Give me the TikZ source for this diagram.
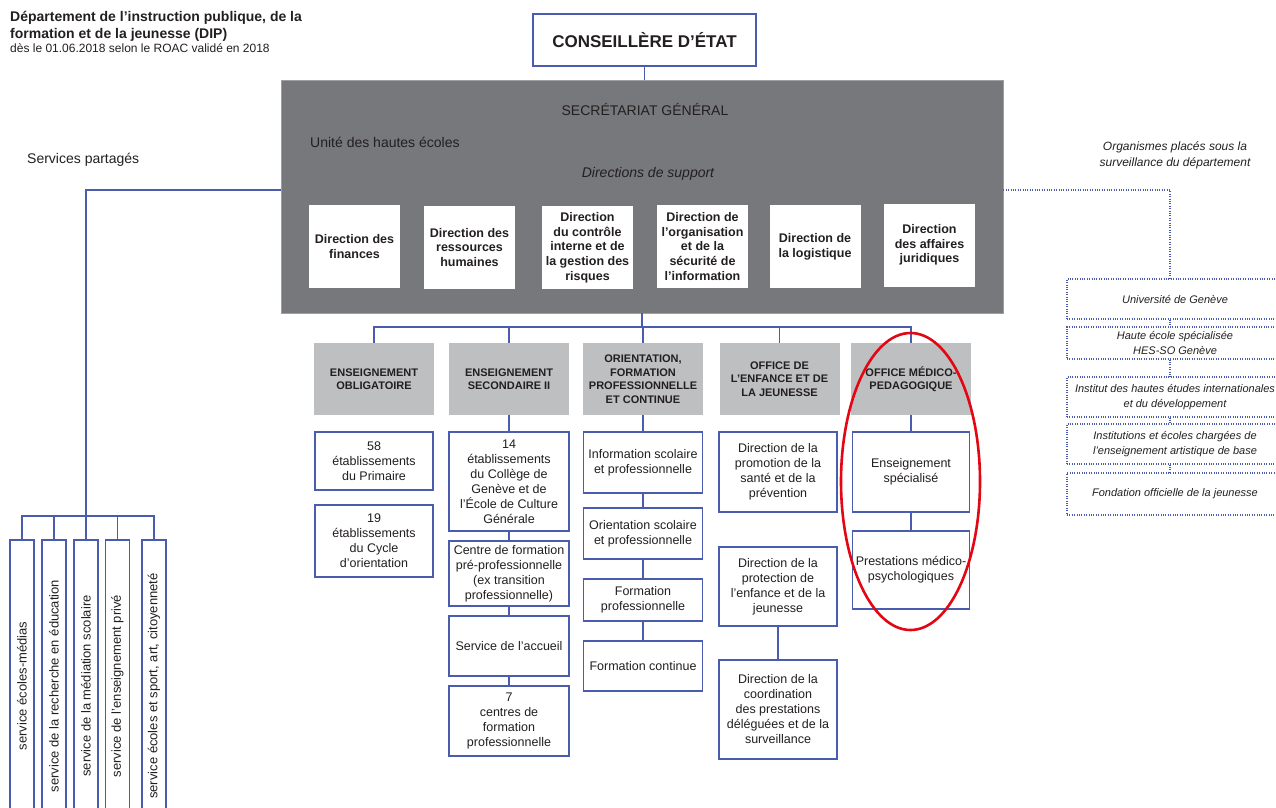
\documentclass[tikz,border=0pt]{standalone}
\usepackage{fontspec}
\setmainfont{Liberation Sans}
\definecolor{linkblue}{HTML}{4A5CAE}
\definecolor{sggray}{HTML}{77787C}
\definecolor{headgray}{HTML}{BEBFC1}
\definecolor{inkdark}{HTML}{231F20}
\definecolor{ovalred}{HTML}{E30613}
\tikzset{
  sized/.style 2 args={minimum width=#1pt, minimum height=#2pt, inner sep=1pt, align=center},
  lbl/.style={inner sep=0pt, text=inkdark},
  link/.style={draw=linkblue, line width=1.2pt},
  dotlink/.style={draw=linkblue, line width=1.1pt, dash pattern=on 1pt off 1.4pt},
  unitbox/.style={draw=linkblue, line width=1.2pt, fill=white, text=inkdark, font=\fontsize{12.5}{15}\selectfont},
  headbox/.style={fill=headgray, text=inkdark, sized={120}{72}, font=\bfseries\fontsize{11}{13.5}\selectfont},
  supportbox/.style={fill=white, text=inkdark, sized={91}{83}, font=\bfseries\fontsize{12.5}{14.7}\selectfont},
  servbox/.style={draw=linkblue, line width=1.2pt, fill=white, rotate=90, sized={292}{24}, text=inkdark, font=\fontsize{13}{15}\selectfont},
  orgbox/.style={dotlink, sized={216}{#1}, text=inkdark, font=\itshape\fontsize{11}{14.5}\selectfont},
}
\begin{document}
\begin{tikzpicture}[x=1pt,y=-1pt]
  \useasboundingbox (0,0) rectangle (1276,807);
  \clip (0,0) rectangle (1276,807);
  % titre
  \node[lbl,anchor=base west,font=\bfseries\fontsize{14}{16}\selectfont] (t1) at (10,21) {Département de l'instruction publique, de la};
  \node[lbl,anchor=base west,font=\bfseries\fontsize{14}{16}\selectfont] (t2) at (10,38) {formation et de la jeunesse (DIP)};
  \node[lbl,anchor=base west,font=\fontsize{12}{14}\selectfont] (t3) at (10,52) {dès le 01.06.2018 selon le ROAC validé en 2018};
  % direction
  \node[unitbox,sized={223}{52},font=\bfseries\fontsize{17}{20}\selectfont] (ce) at (644.5,40) {CONSEILLÈRE D'ÉTAT};
  \node[fill=sggray,draw=gray!75,line width=0.8pt,sized={722}{233}] (sg) at (642,196.5) {};
  \draw[link] (ce.south) -- (ce.south |- sg.north);
  \node[lbl,font=\fontsize{14}{16}\selectfont] (sgtitle) at (645,109) {SECRÉTARIAT GÉNÉRAL};
  \node[lbl,anchor=west,font=\fontsize{14}{16}\selectfont] (uhe) at (310,142) {Unité des hautes écoles};
  \node[lbl,font=\itshape\fontsize{14}{16}\selectfont] (dsup) at (648,174) {Directions de support};
  \foreach \n/\x/\y/\t in {
      dfin/354.5/246.5/{Direction des\\finances},
      drh/469.5/247.5/{Direction des\\ressources\\humaines},
      dcir/587.5/247.5/{Direction\\du contrôle\\interne et de\\la gestion des\\risques},
      dosi/702.5/246.5/{Direction de\\l'organisation\\et de la\\sécurité de\\l'information},
      dlog/815/246.5/{Direction de\\la logistique},
      daj/929.5/245/{Direction\\des affaires\\juridiques}}
    \node[supportbox] (\n) at (\x,\y) {\t};
  % offices
  \foreach \n/\x/\t in {
      h1/374/{ENSEIGNEMENT\\OBLIGATOIRE},
      h2/509/{ENSEIGNEMENT\\SECONDAIRE II},
      h3/643/{ORIENTATION,\\FORMATION\\PROFESSIONNELLE\\ET CONTINUE},
      h4/779.5/{OFFICE DE\\L'ENFANCE ET DE\\LA JEUNESSE},
      h5/911/{OFFICE MÉDICO-\\PEDAGOGIQUE}}
    \node[headbox] (\n) at (\x,379) {\t};
  \coordinate (bar) at (642,327);
  \draw[link] (bar |- sg.south) -- (bar);
  \draw[link] (h1.north) |- (bar) -| (h5.north);
  \foreach \h in {h2,h3,h4}
    \draw[link] (\h.north) -- (\h.north |- bar);
  % services des offices
  \foreach \n/\x/\y/\w/\h/\t in {
      c1a/374/461/118/58/{58\\établissements\\du Primaire},
      c1b/374/541/118/72/{19\\établissements\\du Cycle\\d'orientation},
      c2a/509/481.5/120/99/{14\\établissements\\du Collège de\\Genève et de\\l'École de Culture\\Générale},
      c2b/509/573.5/120/65/{Centre de formation\\pré-professionnelle\\(ex transition\\professionnelle)},
      c2c/509/646/120/60/{Service de l'accueil},
      c2d/509/721/120/70/{7\\centres de\\formation\\professionnelle},
      c3a/643/462.5/119/61/{Information scolaire\\et professionnelle},
      c3b/643/533.5/119/51/{Orientation scolaire\\et professionnelle},
      c3c/643/600/119/42/{Formation\\professionnelle},
      c3d/643/666/119/50/{Formation continue},
      c4a/778/472/118/80/{Direction de la\\promotion de la\\santé et de la\\prévention},
      c4b/778/586.5/118/79/{Direction de la\\protection de\\l'enfance et de la\\jeunesse},
      c4c/778/709.5/118/99/{Direction de la\\coordination\\des prestations\\déléguées et de la\\surveillance},
      c5a/911/472/117/80/{Enseignement\\spécialisé},
      c5b/911/570/117/78/{Prestations médico-\\psychologiques}}
    \node[unitbox,sized={\w}{\h}] (\n) at (\x,\y) {\t};
  \draw[link] (h2) -- (c2a) -- (c2b) -- (c2c) -- (c2d);
  \draw[link] (h3) -- (c3a) -- (c3b) -- (c3c) -- (c3d);
  \draw[link] (c4b) -- (c4c);
  \draw[link] (h5) -- (c5a) -- (c5b);
  % services partages
  \node[lbl,anchor=base west,font=\fontsize{14}{16}\selectfont] (spt) at (27,163) {Services partagés};
  \foreach \n/\x/\t in {
      s1/22/{service écoles-médias},
      s2/54/{service de la recherche en éducation},
      s3/86/{service de la médiation scolaire},
      s4/117.5/{service de l'enseignement privé},
      s5/154/{service écoles et sport, art, citoyenneté}}
    \node[servbox] (\n) at (\x,686) {\t};
  \coordinate (sp) at (86,190);
  \coordinate (spbar) at (86,516);
  \draw[link] (sp -| sg.west) -- (sp) -- (spbar);
  \draw[link] (s1.east) |- (spbar) -| (s5.east);
  \foreach \s in {s2,s3,s4}
    \draw[link] (\s.east) -- (\s.east |- spbar);
  % organismes sous surveillance
  \node[lbl,align=center,font=\itshape\fontsize{12}{16}\selectfont] (orgt) at (1175,155) {Organismes placés sous la\\surveillance du département};
  \node[orgbox=40] (o1) at (1175,299) {Université de Genève};
  \node[orgbox=32] (o2) at (1175,343) {Haute école spécialisée\\HES-SO Genève};
  \node[orgbox=40] (o3) at (1175,397) {Institut des hautes études internationales\\et du développement};
  \node[orgbox=40] (o4) at (1175,444) {Institutions et écoles chargées de\\l'enseignement artistique de base};
  \node[orgbox=42] (o5) at (1175,494) {Fondation officielle de la jeunesse};
  \coordinate (rc) at (1170,190);
  \draw[dotlink] (rc -| sg.east) -- (rc) -- (rc |- o1.north);
  \foreach \a/\b in {o1/o2,o2/o3,o3/o4,o4/o5}
    \draw[dotlink] (rc |- \a.south) -- (rc |- \b.north);
  % ellipse rouge
  \draw[ovalred,line width=2.6pt] (910.5,481.5) ellipse [x radius=69.5pt, y radius=148.5pt];
\end{tikzpicture}
\end{document}
